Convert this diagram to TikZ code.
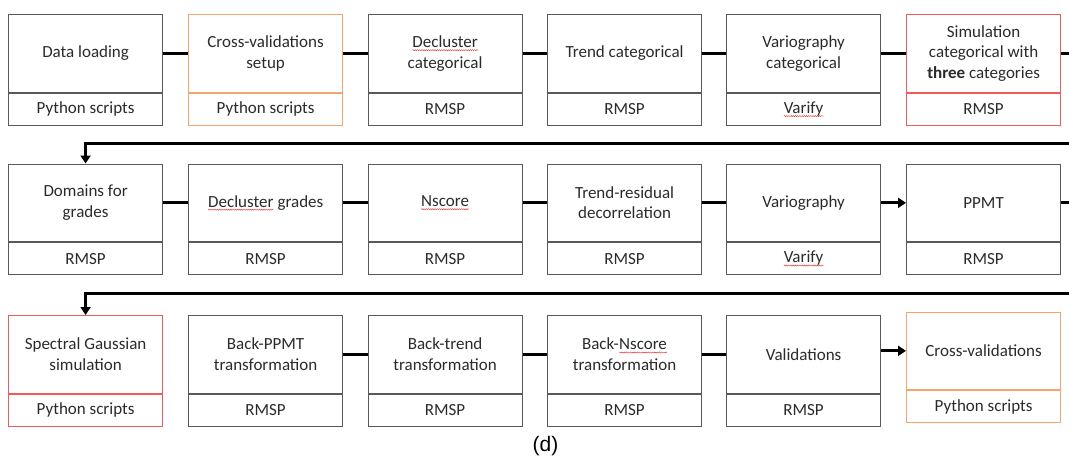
\documentclass[tikz,border=0pt]{standalone}
\usepackage{fontspec}
\setmainfont{Carlito}
\newfontfamily\captionfont{Liberation Sans}
\usetikzlibrary{arrows.meta,decorations.pathmorphing}

\definecolor{boxgray}{HTML}{595959}
\definecolor{txt}{HTML}{2B2B2B}
\definecolor{orangeb}{HTML}{F4A46C}
\definecolor{redb}{HTML}{F05A5A}
\definecolor{squig}{HTML}{E03C3C}

% word marked with a red wavy underline
\newcommand\spell[1]{\tikz[baseline=(w.base)]{%
  \node[draw=none, inner sep=0pt, outer sep=0pt, minimum width=0pt,
        minimum height=0pt, anchor=base, text=txt] (w) {#1};
  \draw[draw=squig, line width=0.45pt, decorate,
        decoration={snake, amplitude=0.55pt, segment length=2.2pt}]
    ([yshift=-2.6pt]w.base west) -- ([yshift=-2.6pt]w.base east);}}

\tikzset{
  upper/.style={draw=boxgray, line width=1.2pt, inner sep=0pt,
    minimum width=154pt, minimum height=77.5pt, anchor=north west,
    align=center, text=txt, font=\fontsize{17pt}{20.5pt}\selectfont},
  lower/.style={upper, minimum height=32pt, anchor=north},
  orangebox/.style={draw=orangeb},
  redbox/.style={draw=redb},
  conn/.style={line width=2.8pt, black},
  arr/.style={conn, -{Triangle[length=8pt,width=10pt]}},
}

\begin{document}
\begin{tikzpicture}[x=1pt, y=-1pt]
\clip (0,0) rectangle (1069,458);
\fill[white] (0,0) rectangle (1069,458);

% first row
\node[upper] (u1) at (8,14) {Data loading};
\node[lower] (l1) at (u1.south) {Python scripts};
\node[upper,orangebox] (u2) at (188,14) {Cross-validations\\setup};
\node[lower,orangebox] (l2) at (u2.south) {Python scripts};
\node[upper] (u3) at (367.5,14) {\spell{Decluster}\\categorical};
\node[lower] (l3) at (u3.south) {RMSP};
\node[upper] (u4) at (547,14) {Trend categorical};
\node[lower] (l4) at (u4.south) {RMSP};
\node[upper] (u5) at (726,14) {Variography\\categorical};
\node[lower] (l5) at (u5.south) {\spell{Varify}};
\node[upper,redbox] (u6) at (906,14) {Simulation\\categorical with\\\textbf{three} categories};
\node[lower,redbox] (l6) at (u6.south) {RMSP};

% second row
\node[upper] (u7) at (8,163.5) {Domains for\\grades};
\node[lower] (l7) at (u7.south) {RMSP};
\node[upper] (u8) at (188,163.5) {\spell{Decluster} grades};
\node[lower] (l8) at (u8.south) {RMSP};
\node[upper] (u9) at (367.5,163.5) {\spell{Nscore}};
\node[lower] (l9) at (u9.south) {RMSP};
\node[upper] (u10) at (547,163.5) {Trend-residual\\decorrelation};
\node[lower] (l10) at (u10.south) {RMSP};
\node[upper] (u11) at (726,163.5) {Variography};
\node[lower] (l11) at (u11.south) {\spell{Varify}};
\node[upper] (u12) at (906,163.5) {PPMT};
\node[lower] (l12) at (u12.south) {RMSP};

% third row
\node[upper,redbox] (u13) at (8,315) {Spectral Gaussian\\simulation};
\node[lower,redbox] (l13) at (u13.south) {Python scripts};
\node[upper] (u14) at (188,315) {Back-PPMT\\transformation};
\node[lower] (l14) at (u14.south) {RMSP};
\node[upper] (u15) at (367.5,315) {Back-trend\\transformation};
\node[lower] (l15) at (u15.south) {RMSP};
\node[upper] (u16) at (547,315) {Back-\spell{Nscore}\\transformation};
\node[lower] (l16) at (u16.south) {RMSP};
\node[upper] (u17) at (726,315) {Validations};
\node[lower] (l17) at (u17.south) {RMSP};
\node[upper,orangebox] (u18) at (906,311.5) {Cross-validations};
\node[lower,orangebox] (l18) at (u18.south) {Python scripts};

% turning points beyond the right edge
\coordinate (t1) at (1085,143.5);
\coordinate (t2) at (1085,293.5);

% connectors
\draw[conn] (u1) -- (u2);
\draw[conn] (u2) -- (u3);
\draw[conn] (u3) -- (u4);
\draw[conn] (u4) -- (u5);
\draw[conn] (u5) -- (u6);
\draw[arr] (u6.east) -| (t1) -| (u7.north);

\draw[conn] (u7) -- (u8);
\draw[conn] (u8) -- (u9);
\draw[conn] (u9) -- (u10);
\draw[conn] (u10) -- (u11);
\draw[arr] (u11) -- (u12);
\draw[arr] (u12.east) -| (t2) -| (u13.north);

\draw[conn] (u14) -- (u15);
\draw[conn] (u15) -- (u16);
\draw[conn] (u16) -- (u17);
\draw[arr] (u17.east |- u18) -- (u18);

% panel label
\node[font=\captionfont\fontsize{21pt}{24pt}\selectfont, text=black] (lab) at (545.5,446) {(d)};
\end{tikzpicture}
\end{document}
